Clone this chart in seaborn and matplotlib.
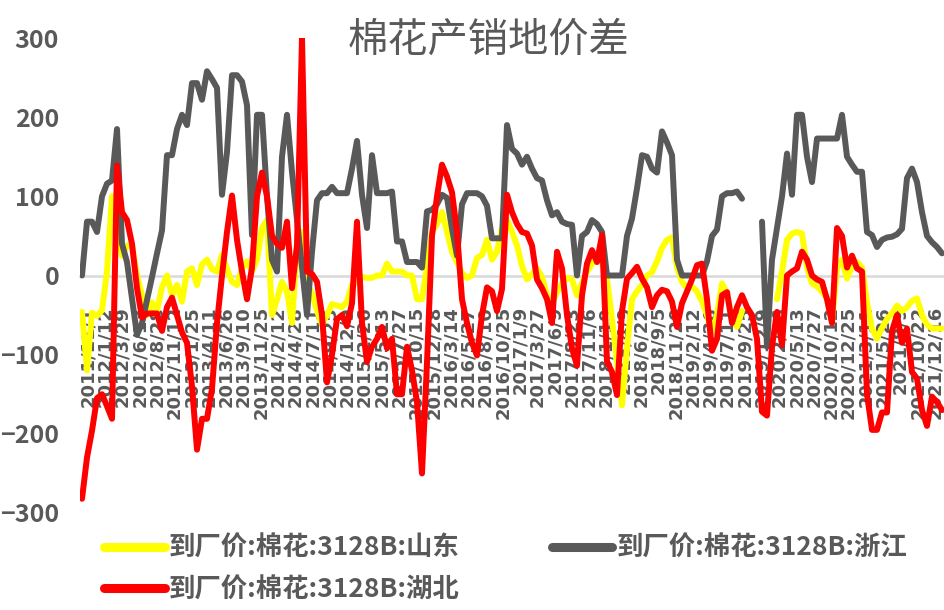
import numpy as np
import pandas as pd
import matplotlib
matplotlib.use("Agg")
import matplotlib.pyplot as plt
from matplotlib.lines import Line2D
import seaborn as sns

nan = float("nan")

series_names = ["到厂价:棉花:3128B:山东", "到厂价:棉花:3128B:浙江", "到厂价:棉花:3128B:湖北"]
title = "棉花产销地价差"

shandong = [
    -46, -120, -47, -51, -44, 5, 100, 59, 25, 38,
    38, 0, -25, -50, -34, -44, -15, 0, -25, -12,
    -33, 5, 9, -12, 14, 20, 8, 5, 26, 8,
    -8, -12, 9, 18, 5, 20, 60, 70, -50, -30,
    -8, -20, -60, 38, 55, -12, -22, -45, -62, -50,
    -36, -38, -40, -33, -12, -8, -2, -3, -3, 0,
    0, 15, 5, 5, 5, 0, 0, -30, -30, 12,
    55, 65, 80, 55, 30, 17, 3, -3, 0, 22,
    26, 45, 20, 30, 60, 70, 55, 38, 12, -5,
    2, 9, -2, -25, -35, -21, -10, -3, -5, -25,
    -10, 5, 15, 21, 17, -5, -55, -109, -164, -92,
    -30, -20, -12, 0, 4, 18, 35, 45, 48, 10,
    -8, -16, -14, -20, -33, -50, -72, -50, -10, -22,
    -55, -65, -45, nan, nan, nan, nan, nan, nan, -30,
    5, 45, 53, 55, 53, 10, -10, -14, -20, -29,
    -59, 10, 20, -4, 12, 17, 10, -34, -67, -80,
    -66, -55, -48, -38, -45, -40, -32, -29, -50, -62,
    -67, -67, -67,
]

zhejiang = [
    0, 68, 68, 55, 100, 116, 120, 185, 40, 17,
    -29, -75, -60, -31, -2, 28, 57, 152, 152, 185,
    203, 190, 243, 243, 222, 258, 248, 237, 102, 156,
    253, 253, 245, 215, 51, 203, 203, 100, 20, 5,
    150, 203, 131, 71, 11, -50, 30, 95, 104, 104,
    112, 104, 104, 104, 135, 170, 102, 60, 152, 104,
    104, 104, 106, 43, 43, 17, 17, 17, 10, 81,
    83, 90, 102, 98, 59, 25, 90, 104, 104, 104,
    100, 88, 47, 47, 47, 190, 160, 154, 140, 150,
    135, 123, 120, 95, 76, 80, 68, 65, 64, 0,
    50, 55, 70, 65, 55, 0, 0, 0, 0, 50,
    72, 110, 152, 150, 135, 130, 182, 168, 152, 20,
    0, 0, 0, 0, 0, 18, 50, 58, 100, 104,
    104, 106, 97, nan, nan, nan, 68, -90, 20, 60,
    100, 154, 102, 203, 203, 150, 118, 173, 173, 173,
    173, 173, 203, 150, 140, 131, 131, 55, 51, 36,
    45, 48, 49, 52, 59, 123, 135, 118, 80, 50,
    42, 36, 28,
]

hubei = [
    -282, -230, -196, -155, -150, -165, -181, 139, 80, 70,
    40, -16, -53, -48, -48, -48, -70, -40, -28, -50,
    -72, -85, -140, -220, -181, -181, -143, -60, 0, 55,
    101, 45, 5, -30, 10, 100, 130, 100, 50, 40,
    35, 68, -16, 38, 300, 5, 2, -8, -50, -135,
    -100, -55, -50, -64, -35, 68, -60, -109, -90, -80,
    -65, -92, -80, -150, -150, -90, -120, -160, -250, -110,
    50, 100, 140, 125, 105, 55, -30, -60, -85, -101,
    -50, -15, -20, -45, -17, 102, 80, 65, 55, 53,
    38, -5, -16, -30, -60, 30, 9, -50, -92, -114,
    -25, 15, 32, 17, 51, -109, -122, -151, -45, -4,
    3, 11, -4, -15, -40, -25, -18, -20, -33, -65,
    -35, -20, -5, 13, 15, -30, -95, -80, -25, -21,
    -60, -40, -25, -40, -50, -80, -172, -177, -90, -46,
    -88, 0, 5, 9, 30, 20, 0, -5, -8, -30,
    -60, 60, 50, 10, 25, 9, 5, -150, -195, -195,
    -173, -173, -70, -50, -85, -67, -122, -130, -170, -190,
    -153, -160, -170,
]

tick_labels = [
    "2011/11/1", "2012/1/12", "2012/3/29", "2012/6/13", "2012/8/28",
    "2012/11/12", "2013/1/25", "2013/4/11", "2013/6/26", "2013/9/10",
    "2013/11/25", "2014/2/12", "2014/4/28", "2014/7/11", "2014/9/25",
    "2014/12/9", "2015/2/26", "2015/5/13", "2015/7/27", "2015/10/15",
    "2015/12/28", "2016/3/14", "2016/5/27", "2016/8/10", "2016/10/25",
    "2017/1/9", "2017/3/27", "2017/6/9", "2017/8/23", "2017/11/6",
    "2018/1/19", "2018/4/9", "2018/6/22", "2018/9/5", "2018/11/20",
    "2019/2/12", "2019/4/26", "2019/7/11", "2019/9/25", "2019/12/9",
    "2020/2/26", "2020/5/13", "2020/7/27", "2020/10/12", "2020/12/25",
    "2021/3/11", "2021/5/26", "2021/8/9", "2021/10/22", "2021/12/16",
]

colors = ["#FFFF00", "#595959", "#FF0000"]
text_color = "#595959"

sns.set_theme(style="white")
plt.rcParams["font.family"] = ["Noto Sans CJK SC", "DejaVu Sans"]

# long-format table; a new segment starts after each gap so gaps stay open
rows = []
for name, vals in zip(series_names, [shandong, zhejiang, hubei]):
    seg = 0
    in_gap = True
    for i, v in enumerate(vals):
        if np.isnan(v):
            in_gap = True
            continue
        if in_gap:
            seg += 1
            in_gap = False
        rows.append((name, i, v, seg))
df = pd.DataFrame(rows, columns=["series", "idx", "value", "seg"])

fig = plt.figure(figsize=(9.45, 6.1), dpi=100)
ax = fig.add_axes([80 / 945, 97 / 610, 865 / 945, 475 / 610])

sns.lineplot(
    data=df, x="idx", y="value", hue="series", units="seg", estimator=None,
    hue_order=series_names, palette=dict(zip(series_names, colors)),
    linewidth=4.3, legend=False, sort=False, ax=ax,
    solid_joinstyle="round", solid_capstyle="round",
)

n = len(shandong)
ax.set_xlim(-0.4, n - 0.4)
ax.set_ylim(-300, 300)
ax.set_yticks([-300, -200, -100, 0, 100, 200, 300])
ax.set_xlabel("")
ax.set_ylabel("")
for s in ["top", "right", "left"]:
    ax.spines[s].set_visible(False)
ax.spines["bottom"].set_position(("data", 0))
ax.spines["bottom"].set_color("#d9d9d9")
ax.spines["bottom"].set_linewidth(1.8)
ax.spines["bottom"].set_zorder(1)

tick_pos = np.linspace(1.2, n - 2.4, len(tick_labels))
ax.set_xticks(tick_pos)
ax.set_xticklabels(tick_labels, rotation=90, ha="center", va="top",
                   fontsize=13, color=text_color, fontweight="bold",
                   family=["DejaVu Sans"])
ax.tick_params(axis="x", direction="out", length=6, width=1.3,
               color="#d9d9d9", pad=16)
ax.tick_params(axis="y", length=0, pad=15)
for lab in ax.get_yticklabels():
    lab.set_fontsize(18)
    lab.set_color(text_color)
    lab.set_fontweight("bold")
ax.grid(False)

fig.text(488 / 945, 1 - 40 / 610, title, ha="center", va="center",
         fontsize=29, color=text_color)

handles = [Line2D([], [], color=c, lw=6.5, solid_capstyle="round") for c in colors]
order = [0, 2, 1]
leg = fig.legend([handles[i] for i in order], [series_names[i] for i in order],
                 loc="upper left", bbox_to_anchor=(104 / 945, 1 - 535 / 610),
                 ncol=2, frameon=False, fontsize=19, handlelength=2.3,
                 handletextpad=0.15, columnspacing=3.5, labelspacing=0.55,
                 borderpad=0, borderaxespad=0)
for t in leg.get_texts():
    t.set_color(text_color)
    t.set_fontweight("bold")

fig.savefig("out.png", dpi=100)
